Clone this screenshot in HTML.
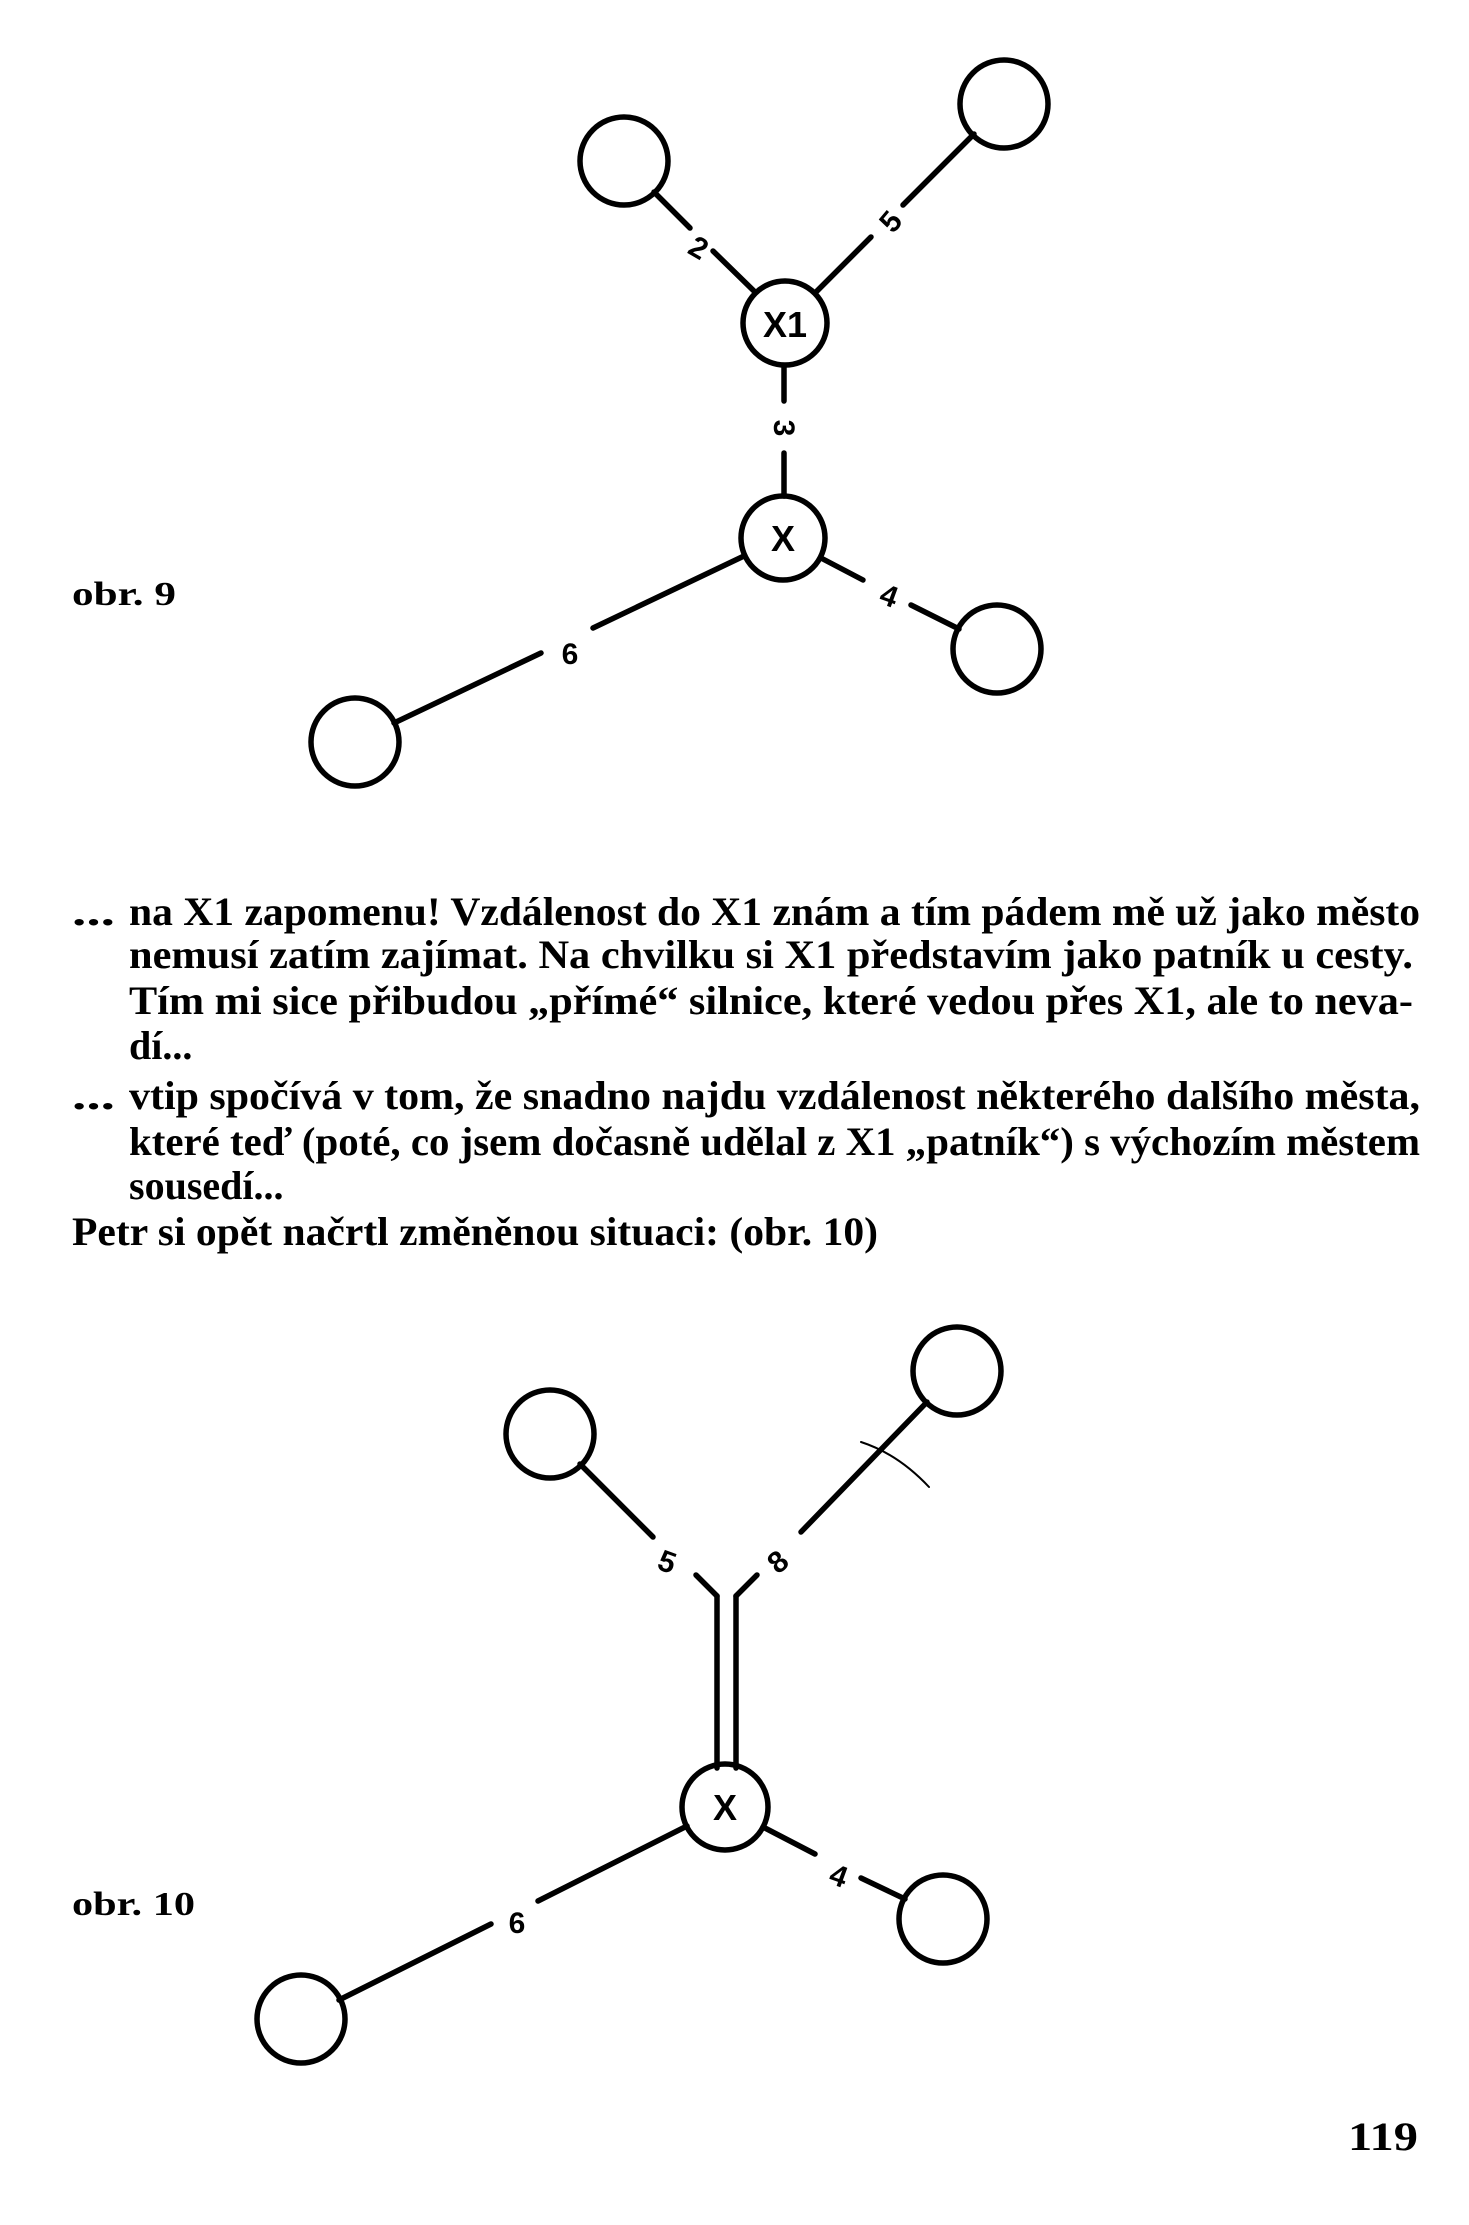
<!DOCTYPE html>
<html><head><meta charset="utf-8"><style>
html,body{margin:0;padding:0;background:#fff;}
svg{display:block}
</style></head><body>
<svg width="1469" height="2225" viewBox="0 0 1469 2225" xmlns="http://www.w3.org/2000/svg">
<g transform="translate(-7,-4)">
<g fill="none" stroke="#000" stroke-width="5.5" stroke-linecap="round">
<circle cx="631" cy="165" r="44"/>
<circle cx="1011" cy="108" r="44"/>
<circle cx="792" cy="327" r="42"/>
<circle cx="790" cy="542" r="42"/>
<circle cx="1004" cy="653" r="44"/>
<circle cx="362" cy="746" r="44"/>
<line x1="661" y1="196" x2="697" y2="232"/>
<line x1="720" y1="255" x2="762" y2="296"/>
<line x1="822" y1="297" x2="878" y2="241"/>
<line x1="910" y1="209" x2="981" y2="138"/>
<line x1="791" y1="370" x2="791" y2="405"/>
<line x1="791" y1="457" x2="791" y2="500"/>
<line x1="828" y1="562" x2="870" y2="584"/>
<line x1="918" y1="609" x2="966" y2="633"/>
<line x1="751" y1="560" x2="600" y2="632"/>
<line x1="548" y1="657" x2="401" y2="727"/>
</g>
<g font-family="Liberation Sans, sans-serif" font-weight="bold" font-size="30" text-anchor="middle" fill="#000">
<text x="706" y="262" transform="rotate(30 706 251)">2</text>
<text x="897" y="236" transform="rotate(-50 897 225)">5</text>
<text x="791" y="442" transform="rotate(90 791 432)">3</text>
<text x="896" y="610" transform="rotate(20 896 600)">4</text>
<text x="577" y="668">6</text>
<text x="792" y="341" font-size="36">X1</text>
<text x="790" y="555" font-size="36">X</text>
</g>
</g>
<g transform="translate(-7,-18)">
<g fill="none" stroke="#000" stroke-width="5.5" stroke-linecap="round">
<circle cx="557" cy="1452" r="44"/>
<circle cx="964" cy="1389" r="44"/>
<circle cx="732" cy="1825" r="43"/>
<circle cx="950" cy="1937" r="44"/>
<circle cx="308" cy="2037" r="44"/>
<line x1="724" y1="1614" x2="724" y2="1786"/>
<line x1="743" y1="1614" x2="743" y2="1786"/>
<line x1="724" y1="1614" x2="703" y2="1593"/>
<line x1="743" y1="1614" x2="764" y2="1593"/>
<line x1="587" y1="1482" x2="660" y2="1555"/>
<line x1="934" y1="1420" x2="808" y2="1550"/>
<path d="M868 1460 Q905 1472 936 1505" stroke-width="2"/>
<line x1="770" y1="1845" x2="822" y2="1872"/>
<line x1="868" y1="1896" x2="912" y2="1917"/>
<line x1="694" y1="1844" x2="545" y2="1919"/>
<line x1="498" y1="1942" x2="346" y2="2018"/>
</g>
<g font-family="Liberation Sans, sans-serif" font-weight="bold" font-size="30" text-anchor="middle" fill="#000">
<text x="674" y="1590" transform="rotate(20 674 1580)">5</text>
<text x="785" y="1590" transform="rotate(-40 785 1580)">8</text>
<text x="846" y="1904" transform="rotate(20 846 1893)">4</text>
<text x="524" y="1951">6</text>
<text x="732" y="1838" font-size="36">X</text>
</g>
</g>
<g font-family="Liberation Serif, serif" font-weight="bold" font-size="40" fill="#000">
<text x="72" y="605" font-size="34" textLength="104" lengthAdjust="spacingAndGlyphs">obr. 9</text>
<text x="72" y="1915" font-size="34" textLength="123" lengthAdjust="spacingAndGlyphs">obr. 10</text>
<text x="1348" y="2150" font-size="40" textLength="70" lengthAdjust="spacingAndGlyphs">119</text>
<text x="72" y="925" textLength="43" lengthAdjust="spacingAndGlyphs">...</text>
<text x="129" y="925" textLength="1291" lengthAdjust="spacingAndGlyphs">na X1 zapomenu! Vzdálenost do X1 znám a tím pádem mě už jako město</text>
<text x="129" y="968" textLength="1284" lengthAdjust="spacingAndGlyphs">nemusí zatím zajímat. Na chvilku si X1 představím jako patník u cesty.</text>
<text x="129" y="1014" textLength="1284" lengthAdjust="spacingAndGlyphs">Tím mi sice přibudou „přímé“ silnice, které vedou přes X1, ale to neva-</text>
<text x="129" y="1059">dí...</text>
<text x="72" y="1109" textLength="43" lengthAdjust="spacingAndGlyphs">...</text>
<text x="129" y="1109" textLength="1291" lengthAdjust="spacingAndGlyphs">vtip spočívá v tom, že snadno najdu vzdálenost některého dalšího města,</text>
<text x="129" y="1155" textLength="1291" lengthAdjust="spacingAndGlyphs">které teď (poté, co jsem dočasně udělal z X1 „patník“) s výchozím městem</text>
<text x="129" y="1199">sousedí...</text>
<text x="72" y="1245" textLength="806" lengthAdjust="spacingAndGlyphs">Petr si opět načrtl změněnou situaci: (obr. 10)</text>
</g>
</svg>
</body></html>
